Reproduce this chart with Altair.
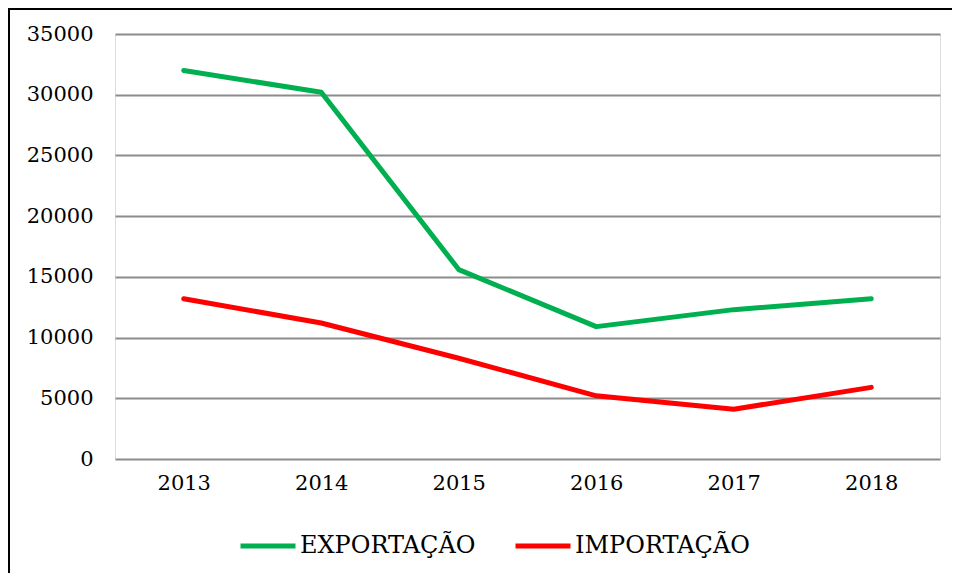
import altair as alt
import pandas as pd

years = ["2013", "2014", "2015", "2016", "2017", "2018"]
exportacao = [32000, 30200, 15600, 10900, 12300, 13200]
importacao = [13200, 11200, 8300, 5200, 4100, 5900]
series_names = ["EXPORTAÇÃO", "IMPORTAÇÃO"]
series_colors = ["#00B050", "#FF0000"]

rows = []
for y, v in zip(years, exportacao):
    rows.append({"ano": y, "valor": v, "serie": series_names[0]})
for y, v in zip(years, importacao):
    rows.append({"ano": y, "valor": v, "serie": series_names[1]})
df = pd.DataFrame(rows)

FONT = "DejaVu Serif"
FS = 21

lines = alt.Chart(df).mark_line(strokeWidth=5, strokeCap="round", strokeJoin="round").encode(
    x=alt.X("ano:N", sort=years, title=None,
            scale=alt.Scale(type="point", padding=0.5),
            axis=alt.Axis(labelAngle=0, ticks=False, domain=False, grid=False,
                          labelFont=FONT, labelFontSize=FS, labelColor="black",
                          labelPadding=13)),
    y=alt.Y("valor:Q", title=None,
            scale=alt.Scale(domain=[0, 35000], nice=False),
            axis=alt.Axis(values=list(range(0, 35001, 5000)), ticks=False, domain=False,
                          format="d",
                          grid=True, gridColor="#8C8C8C", gridWidth=2,
                          labelFont=FONT, labelFontSize=FS, labelColor="black",
                          labelPadding=22)),
    color=alt.Color("serie:N", sort=series_names,
                    scale=alt.Scale(domain=series_names, range=series_colors),
                    legend=alt.Legend(title=None, orient="none", direction="horizontal",
                                      legendX=123, legendY=482,
                                      symbolType="stroke", symbolSize=3025,
                                      symbolStrokeWidth=5, labelOffset=2,
                                      columnPadding=29, labelLimit=400,
                                      labelFont=FONT, labelFontSize=24,
                                      labelColor="black")),
)

top_border = alt.Chart(alt.Data(values=[{}])).mark_rule(
    stroke="black", strokeWidth=2, clip=False
).encode(x=alt.value(-107), x2=alt.value(837), y=alt.value(-25))

left_border = alt.Chart(alt.Data(values=[{}])).mark_rule(
    stroke="black", strokeWidth=2, clip=False
).encode(x=alt.value(-106), y=alt.value(-26), y2=alt.value(540))

chart = alt.layer(top_border, left_border, lines).properties(
    width=825, height=425,
    autosize=alt.AutoSizeParams(type="none"),
    padding={"left": 107, "top": 26, "right": 12, "bottom": 114},
).configure_view(stroke=None).configure(background="white", font=FONT)

chart.save("out.html", embed_options={"renderer": "svg", "actions": False})
